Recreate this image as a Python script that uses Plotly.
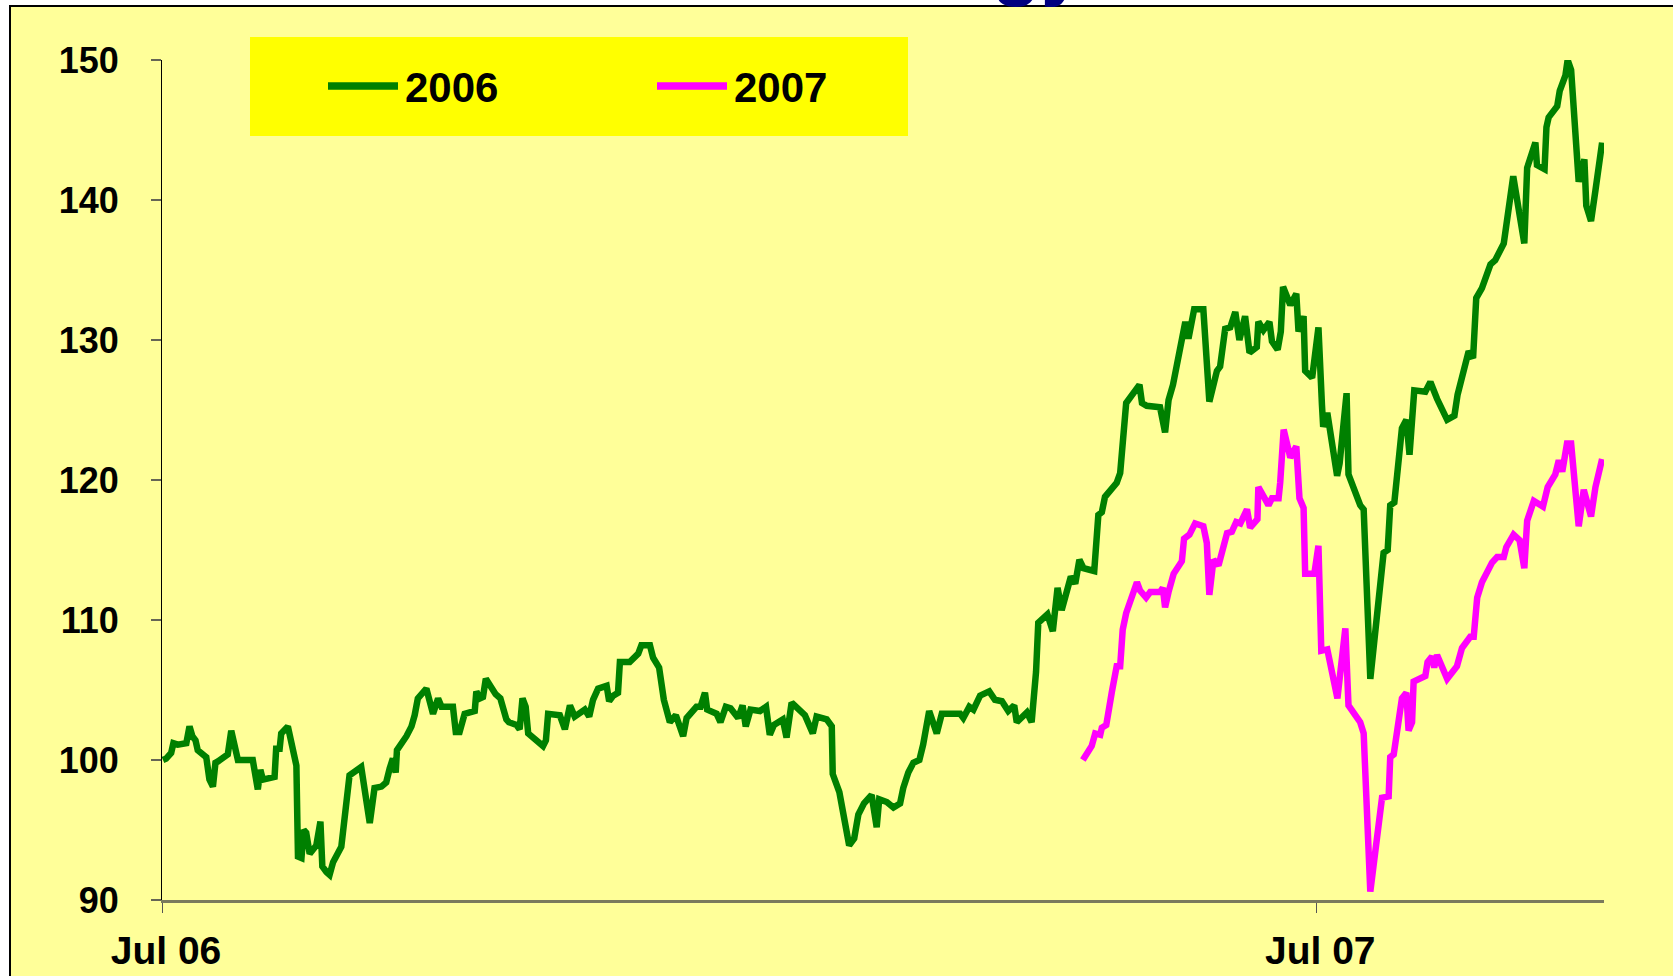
import plotly.graph_objects as go

# ---------------- data (x = days since 1 Jul 2006) ----------------
green_days = [0.3, 1.3, 2.9, 3.6, 5.0, 7.7, 8.7, 9.6, 10.6, 11.3, 14.0, 15.0, 16.1, 16.9, 17.7,
              20.8, 21.9, 22.9, 24.0, 28.7, 29.8, 30.3, 31.1, 31.9, 35.6, 36.1, 37.2, 37.7, 39.8,
              42.5, 43.0, 44.1, 44.8, 45.6, 46.7, 48.8, 50.1, 50.7, 52.0, 53.0, 54.1, 56.7, 59.3,
              60.4, 63.0, 65.7, 67.2, 69.4, 70.9, 72.0, 73.0, 73.9, 74.3, 77.3, 78.9, 79.9, 80.9,
              83.6, 85.7, 87.3, 88.4, 92.0, 92.9, 94.1, 95.7, 98.9, 99.4, 100.5, 101.5, 102.4,
              105.5, 107.0, 108.9, 109.7, 112.1, 113.1, 114.0, 115.0, 115.8, 120.5, 121.4, 122.1,
              125.8, 127.4, 129.0, 130.5, 133.7, 135.1, 136.3, 137.9, 140.6, 141.4, 142.7, 144.2,
              144.8, 147.9, 150.6, 151.6, 154.3, 155.3, 157.2, 158.7, 160.6, 162.5, 164.8, 165.9,
              169.0, 170.3, 171.7, 172.4, 175.4, 176.6, 178.3, 179.8, 182.2, 183.6, 184.6, 186.1,
              189.1, 191.0, 192.2, 193.5, 196.3, 197.5, 199.1, 203.3, 204.7, 205.8, 207.0, 210.2,
              211.8, 212.1, 214.2, 217.3, 218.9, 220.2, 222.0, 224.4, 226.0, 226.8, 229.2, 231.3,
              233.4, 234.4, 236.0, 237.6, 239.5, 240.7, 242.6, 245.0, 246.6, 252.4, 253.4, 255.3,
              256.6, 258.7, 261.6, 263.4, 265.6, 267.6, 269.5, 270.3, 273.5, 275.0, 276.4, 277.1,
              280.0, 281.7, 283.2, 284.5, 287.4, 288.8, 290.1, 291.4, 294.8, 296.1, 297.2, 298.2,
              301.9, 303.0, 304.9, 309.1, 309.9, 311.4, 315.6, 317.2, 318.3, 319.7, 323.6, 324.6,
              326.4, 329.3, 331.2, 333.6, 334.6, 336.2, 337.8, 339.4, 340.7, 342.5, 343.9, 346.2,
              346.7, 348.3, 350.2, 351.0, 352.8, 353.8, 354.5, 356.8, 358.7, 359.4, 361.0, 361.5,
              363.7, 365.7, 366.8, 367.2, 368.5, 371.6, 372.4, 374.6, 375.2, 378.9, 380.0, 382.1,
              386.3, 387.6, 388.4, 389.7, 392.1, 393.5, 394.5, 396.0, 399.5, 401.1, 403.2, 406.4,
              408.7, 409.7, 413.2, 414.6, 415.6, 417.4, 420.1, 421.6, 424.3, 425.4, 427.3, 430.8,
              431.7, 434.3, 434.8, 437.2, 437.8, 438.5, 441.2, 442.0, 443.8, 444.5, 445.6, 448.0,
              449.8, 450.4, 451.9, 453.3, 455.4]
green_vals = [100.0, 100.1, 100.5, 101.2, 101.1, 101.2, 102.4, 101.7, 101.4, 100.7, 100.2, 98.6, 98.1,
              99.8, 99.9, 100.4, 102.1, 101.0, 100.0, 100.0, 98.6, 97.9, 99.3, 98.6, 98.8, 100.8,
              100.8, 101.9, 102.4, 99.6, 93.1, 93.0, 95.0, 94.8, 93.3, 93.9, 95.6, 92.4, 92.0, 91.8,
              92.7, 93.8, 98.9, 99.1, 99.5, 95.5, 98.0, 98.1, 98.4, 99.4, 100.1, 99.1, 100.7, 101.7,
              102.4, 103.2, 104.4, 105.1, 103.3, 104.4, 103.8, 103.8, 102.0, 102.0, 103.3, 103.5,
              104.9, 104.4, 104.5, 105.8, 104.7, 104.4, 102.9, 102.7, 102.5, 102.2, 104.4, 103.8,
              101.9, 101.0, 101.4, 103.3, 103.2, 102.2, 103.9, 103.1, 103.6, 103.1, 104.3, 105.1,
              105.3, 104.2, 104.6, 104.8, 107.0, 107.0, 107.6, 108.2, 108.2, 107.3, 106.6, 104.3,
              102.7, 103.2, 101.7, 103.0, 103.8, 103.8, 104.8, 103.6, 103.3, 102.7, 103.8, 103.7,
              103.0, 103.9, 102.4, 103.6, 103.5, 103.8, 101.8, 102.5, 102.9, 101.6, 104.1, 103.2,
              102.4, 101.9, 103.1, 102.9, 102.4, 99.0, 97.7, 93.9, 94.4, 96.1, 96.9, 97.5, 95.2,
              97.2, 97.0, 96.6, 96.9, 98.0, 99.1, 99.8, 100.0, 101.1, 103.5, 101.9, 103.3, 103.3,
              103.0, 103.8, 103.6, 104.6, 104.9, 104.3, 104.2, 103.5, 103.9, 102.7, 103.4, 102.7,
              106.3, 109.8, 110.4, 109.2, 112.3, 110.7, 113.1, 112.6, 114.3, 113.7, 113.5, 117.5,
              117.7, 118.8, 119.8, 120.5, 125.5, 126.8, 125.5, 125.3, 125.2, 123.4, 125.7, 126.8,
              131.3, 130.1, 132.2, 132.2, 125.6, 127.8, 128.1, 130.8, 130.9, 132.0, 130.0, 131.7,
              129.1, 129.5, 131.3, 130.7, 131.3, 129.9, 129.3, 130.6, 133.8, 132.5, 133.3, 130.6,
              131.7, 127.8, 127.3, 130.9, 125.4, 123.8, 124.8, 120.3, 121.2, 126.2, 120.4, 118.2,
              117.9, 105.8, 114.8, 115.0, 118.2, 118.4, 123.7, 124.3, 121.8, 126.4, 126.3, 127.0,
              125.8, 124.3, 124.6, 126.1, 129.2, 128.7, 133.0, 133.7, 135.4, 135.7, 136.9, 138.8,
              141.7, 136.9, 142.3, 144.1, 142.5, 142.2, 145.2, 145.9, 146.7, 147.8, 148.9, 150.0,
              149.3, 141.3, 142.9, 139.6, 138.5, 140.7, 144.1]

magenta_days = [291.2, 294.0, 295.1, 296.7, 297.2, 298.6, 300.4, 301.9, 303.0, 303.8, 304.9, 305.3,
                308.3, 309.3, 311.2, 312.5, 315.6, 316.5, 317.2, 318.3, 319.9, 322.5, 323.2, 324.9,
                326.7, 329.3, 330.4, 331.2, 332.5, 334.1, 336.8, 338.3, 339.7, 341.0, 343.1, 344.1,
                346.4, 346.7, 349.9, 351.0, 353.1, 353.6, 354.7, 356.8, 358.7, 359.7, 361.0, 361.5,
                364.4, 365.7, 366.6, 368.5, 371.7, 374.2, 375.2, 378.9, 380.0, 382.1, 385.8, 387.9,
                388.4, 389.5, 392.1, 393.5, 394.2, 395.3, 395.8, 399.5, 400.2, 401.6, 402.3, 403.2,
                406.4, 409.5, 411.1, 413.7, 414.8, 415.9, 417.4, 420.6, 422.2, 424.3, 425.1, 427.4,
                429.3, 430.8, 431.7, 433.8, 436.7, 438.2, 440.6, 441.7, 442.8, 444.3, 445.6, 448.0,
                449.6, 451.9, 453.3, 455.4]
magenta_vals = [100.0, 101.0, 101.9, 101.8, 102.3, 102.5, 104.9, 106.7, 106.7, 109.3, 110.5, 110.8,
                112.7, 112.1, 111.6, 112.0, 112.0, 112.3, 110.9, 112.0, 113.3, 114.2, 115.8, 116.1,
                116.9, 116.7, 115.5, 111.8, 114.3, 113.9, 116.2, 116.3, 117.0, 116.9, 117.9, 116.6,
                117.2, 119.5, 118.2, 118.7, 118.7, 119.8, 123.6, 121.6, 122.4, 118.7, 118.0, 113.3,
                113.3, 115.3, 107.8, 107.9, 104.4, 109.4, 103.9, 102.7, 101.9, 90.6, 97.3, 97.4,
                100.2, 100.4, 104.4, 104.8, 102.1, 102.7, 105.6, 106.0, 107.0, 107.4, 106.6, 107.5,
                105.8, 106.7, 108.0, 108.8, 108.8, 111.6, 112.7, 114.1, 114.5, 114.5, 115.2, 116.1,
                115.7, 113.7, 117.1, 118.5, 118.1, 119.5, 120.4, 121.4, 120.6, 122.6, 122.6, 116.7,
                119.3, 117.4, 119.5, 121.5]

series_names = ["2006", "2007"]
series_colors = ["#008000", "#FF00FF"]
y_ticks = [90, 100, 110, 120, 130, 140, 150]
x_tick_days = [0, 365]
x_tick_labels = ["Jul 06", "Jul 07"]
title_fragment = "gy"   # only the descenders of the (cropped) title are visible

# ---------------- layout geometry (pixels) ----------------
W, H = 1673, 976
ML, MR, MT, MB = 162, 69, 60, 76
PW, PH = W - ML - MR, H - MT - MB


def px(x):
    return (x - ML) / PW


def py(y):
    return (H - MB - y) / PH


FONT = "Liberation Sans, Arial, sans-serif"

fig = go.Figure()
fig.add_trace(go.Scatter(x=green_days, y=green_vals, mode="lines", name=series_names[0],
                         line=dict(color=series_colors[0], width=6.5), showlegend=False))
fig.add_trace(go.Scatter(x=magenta_days, y=magenta_vals, mode="lines", name=series_names[1],
                         line=dict(color=series_colors[1], width=6.5), showlegend=False))

shapes = [
    # outer pale-yellow panel with black border
    dict(type="rect", xref="paper", yref="paper", x0=px(10), x1=px(1700), y0=py(6), y1=py(1000),
         fillcolor="#FFFF99", line=dict(color="black", width=2), layer="below"),
    # legend box
    dict(type="rect", xref="paper", yref="paper", x0=px(250), x1=px(908), y0=py(37), y1=py(136),
         fillcolor="#FFFF00", line=dict(width=0), layer="below"),
]
annotations = [
    # cropped title (only the bottoms of the letters show at the top edge)
    dict(xref="paper", yref="paper", x=px(991), y=py(8), text=title_fragment, showarrow=False,
         xanchor="left", yanchor="bottom", borderpad=0,
         font=dict(family=FONT, size=80, color="#000080", weight="bold")),
]
legend_items = [(328, 398, 403), (657, 727, 732)]
for (lx0, lx1, tx), name, col in zip(legend_items, series_names, series_colors):
    shapes.append(dict(type="line", xref="paper", yref="paper", x0=px(lx0), x1=px(lx1),
                       y0=py(86), y1=py(86), line=dict(color=col, width=7.5)))
    annotations.append(dict(xref="paper", yref="paper", x=px(tx), y=py(87), text=name,
                            showarrow=False, xanchor="left", yanchor="middle",
                            font=dict(family=FONT, size=42, color="black", weight="bold")))

fig.update_layout(
    width=W, height=H,
    margin=dict(l=ML, r=MR, t=MT, b=MB, autoexpand=False),
    paper_bgcolor="white",
    plot_bgcolor="rgba(0,0,0,0)",
    shapes=shapes,
    annotations=annotations,
    showlegend=False,
    xaxis=dict(range=[0, 456], tickvals=x_tick_days, ticktext=x_tick_labels, automargin=False,
               showgrid=False, zeroline=False, showline=True, linecolor="#7a7a5c", linewidth=2.5,
               ticks="outside", ticklen=10, tickcolor="#555555", tickwidth=1,
               ticklabelstandoff=4, ticklabelshift=4,
               tickfont=dict(family=FONT, size=39, color="black", weight="bold")),
    yaxis=dict(range=[90, 150], tickvals=y_ticks, showgrid=False, zeroline=False, automargin=False,
               showline=True, linecolor="black", linewidth=1,
               ticks="outside", ticklen=10, tickcolor="#666655", tickwidth=1.5,
               ticklabelstandoff=25,
               tickfont=dict(family=FONT, size=36, color="black", weight="bold")),
)

fig.write_html("out.html", config={"displayModeBar": False},
               post_script="document.body.style.margin='0';")
